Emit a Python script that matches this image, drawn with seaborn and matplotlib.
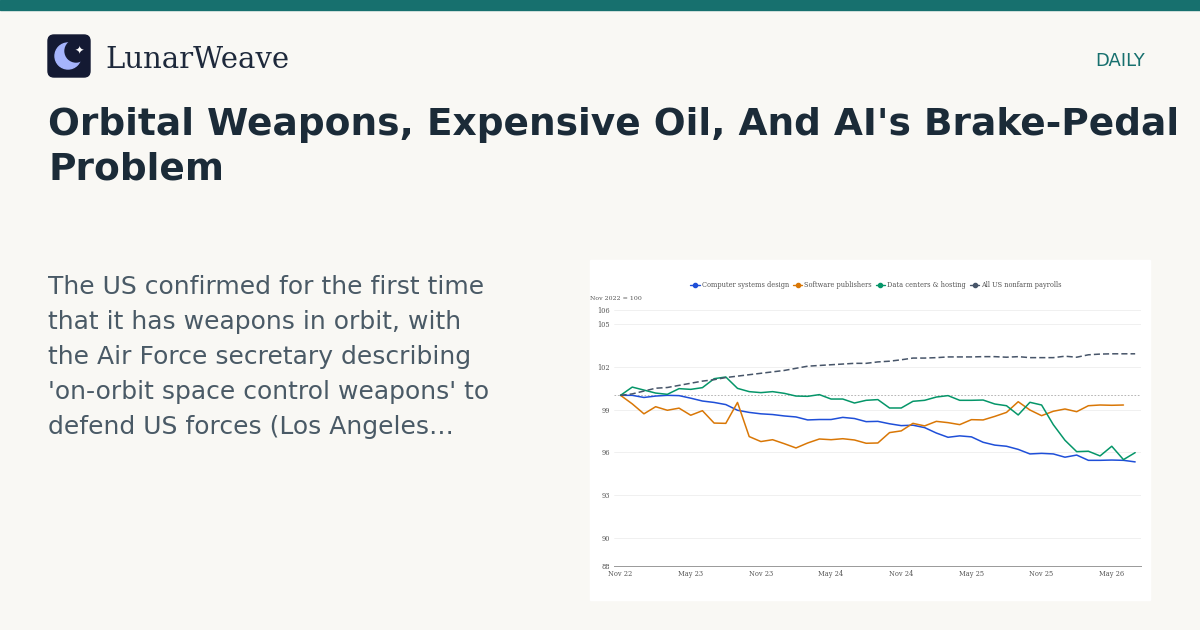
import numpy as np
import pandas as pd
import matplotlib.pyplot as plt
import matplotlib.patches as mpatches
from matplotlib.lines import Line2D
import seaborn as sns

months = pd.date_range("2022-11-01", periods=45, freq="MS")
tick_idx = [0, 6, 12, 18, 24, 30, 36, 42]
tick_labels = ["Nov 22", "May 23", "Nov 23", "May 24", "Nov 24", "May 25", "Nov 25", "May 26"]
y_ticks = [88, 90, 93, 96, 99, 102, 105, 106]

computer = [100, 100, 99.85, 99.95, 100.0, 99.98, 99.8, 99.6, 99.5, 99.35, 98.95, 98.8, 98.7,
            98.65, 98.55, 98.48, 98.27, 98.3, 98.3, 98.45, 98.37, 98.15, 98.17, 98.0, 97.87,
            97.9, 97.73, 97.35, 97.05, 97.15, 97.08, 96.7, 96.5, 96.42, 96.2, 95.88, 95.92,
            95.88, 95.65, 95.8, 95.43, 95.43, 95.45, 95.43, 95.32]
software = [100, 99.4, 98.7, 99.2, 98.95, 99.1, 98.6, 98.92, 98.05, 98.03, 99.5, 97.1, 96.75,
            96.88, 96.6, 96.3, 96.65, 96.93, 96.88, 96.95, 96.86, 96.63, 96.65, 97.38, 97.5,
            98.03, 97.85, 98.17, 98.08, 97.94, 98.29, 98.27, 98.52, 98.8, 99.55, 98.97, 98.57,
            98.88, 99.04, 98.85, 99.27, 99.32, 99.3, 99.32, np.nan]
datacenters = [100, 100.58, 100.37, 100.16, 100.07, 100.47, 100.42, 100.54, 101.17, 101.29,
               100.49, 100.26, 100.19, 100.26, 100.14, 99.95, 99.93, 100.05, 99.74, 99.74,
               99.46, 99.65, 99.7, 99.11, 99.11, 99.58, 99.65, 99.88, 99.98, 99.65, 99.65,
               99.67, 99.39, 99.27, 98.62, 99.51, 99.32, 97.94, 96.84, 96.04, 96.07, 95.74,
               96.42, 95.48, 95.97]
payrolls = [100, 100.1, 100.3, 100.5, 100.55, 100.7, 100.85, 101.0, 101.1, 101.25, 101.35,
            101.45, 101.55, 101.65, 101.75, 101.9, 102.05, 102.1, 102.15, 102.2, 102.25,
            102.25, 102.35, 102.4, 102.5, 102.62, 102.62, 102.65, 102.7, 102.7, 102.7, 102.72,
            102.72, 102.68, 102.72, 102.65, 102.65, 102.65, 102.75, 102.68, 102.85, 102.9,
            102.92, 102.92, 102.92]

names = ["Computer systems design", "Software publishers", "Data centers & hosting",
         "All US nonfarm payrolls"]
colors = ["#1f4fd8", "#d97706", "#059669", "#475569"]

df = pd.DataFrame({"idx": np.arange(len(months))})
for n, v in zip(names, [computer, software, datacenters, payrolls]):
    df[n] = v
long = df.melt(id_vars="idx", var_name="series", value_name="value").dropna()

sns.set_theme(style="white")
plt.rcParams["font.family"] = ["DejaVu Sans"]

BG = "#f9f8f4"
fig = plt.figure(figsize=(12, 6.3), dpi=100, facecolor=BG)

# header, drawn in a full-figure background axes
bg = fig.add_axes([0, 0, 1, 1], zorder=-5)
bg.set_xlim(0, 1200)
bg.set_ylim(630, 0)
bg.axis("off")
bg.add_patch(mpatches.Rectangle((0, 0), 1200, 10, color="#17706e"))
bg.add_patch(mpatches.FancyBboxPatch((48, 35), 42, 42, boxstyle="round,pad=0,rounding_size=6",
                                     color="#141a33"))
bg.add_patch(mpatches.Circle((68, 56), 13, color="#a5b4fc"))
bg.add_patch(mpatches.Circle((76, 51), 11, color="#141a33"))
bg.text(79, 51, "✦", fontsize=8, color="white", ha="center", va="center")
bg.add_patch(mpatches.Rectangle((590, 260), 560, 340, color="white"))

fig.text(105 / 1200, 1 - 60 / 630, "LunarWeave", family="DejaVu Serif", fontsize=21,
         color="#1e293b", va="center")
fig.text(1145 / 1200, 1 - 61 / 630, "DAILY", fontsize=13, color="#17706e", ha="right",
         va="center")
fig.text(48 / 1200, 1 - 125 / 630, "Orbital Weapons, Expensive Oil, And AI's Brake-Pedal",
         fontsize=27, fontweight="bold", color="#1b2b38", va="center")
fig.text(48 / 1200, 1 - 170 / 630, "Problem", fontsize=27, fontweight="bold",
         color="#1b2b38", va="center")
body = ["The US confirmed for the first time", "that it has weapons in orbit, with",
        "the Air Force secretary describing", "'on-orbit space control weapons' to",
        "defend US forces (Los Angeles…"]
for i, line in enumerate(body):
    fig.text(48 / 1200, 1 - (287 + 35 * i) / 630, line, fontsize=18, color="#4a5a66",
             va="center")

ax = fig.add_axes([614 / 1200, 1 - 566 / 630, 527 / 1200, 256 / 630])
ax.set_facecolor("white")
sns.lineplot(data=long, x="idx", y="value", hue="series", hue_order=names,
             palette=colors, linewidth=1.1, legend=False, ax=ax)
ax.lines[3].set_linestyle((0, (4, 2)))
ax.axhline(100, color="#aaaaaa", linestyle=(0, (2, 2)), linewidth=0.6, zorder=0)

ax.set_xlim(-0.56, 44.5)
ax.set_ylim(88, 106)
ax.set_yticks(y_ticks)
ax.set_xticks(tick_idx)
ax.set_xticklabels(tick_labels)
ax.tick_params(labelsize=4.8, colors="#555555", length=0, pad=3)
for lab in ax.get_xticklabels() + ax.get_yticklabels():
    lab.set_family("DejaVu Serif")
ax.grid(axis="y", color="#eeeeee", linewidth=0.6)
ax.set_xlabel("")
ax.set_ylabel("")
for s in ["top", "right", "left"]:
    ax.spines[s].set_visible(False)
ax.spines["bottom"].set_color("#999999")
ax.spines["bottom"].set_linewidth(0.7)

fig.text(590 / 1200, 1 - 298 / 630, "Nov 2022 = 100", family="DejaVu Serif", fontsize=4.5,
         color="#555555", va="center")
handles = [Line2D([0], [0], color=c, marker="o", markersize=3, linewidth=1) for c in colors]
fig.legend(handles, names, loc="center", bbox_to_anchor=(876 / 1200, 1 - 285 / 630), ncol=4,
           frameon=False, prop={"family": "DejaVu Serif", "size": 4.8}, labelcolor="#555555",
           handlelength=1.4, columnspacing=0.6, handletextpad=0.3)

fig.savefig("out.png", dpi=100, facecolor=BG)
